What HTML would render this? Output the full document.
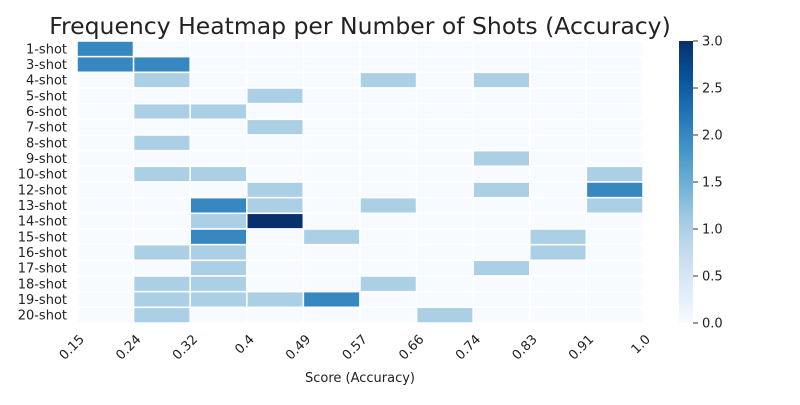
<!DOCTYPE html>
<html><head><meta charset="utf-8"><style>
body{margin:0;background:#fff;}
svg{font-family:"DejaVu Sans","Liberation Sans",sans-serif;}
</style></head><body>
<svg id="chart" width="800" height="400">
<defs><linearGradient id="blues" x1="0" y1="1" x2="0" y2="0">
<stop offset="0" stop-color="#f7fbff"/><stop offset="0.125" stop-color="#deebf7"/><stop offset="0.25" stop-color="#c6dbef"/><stop offset="0.375" stop-color="#9ecae1"/><stop offset="0.5" stop-color="#6baed6"/><stop offset="0.625" stop-color="#4292c6"/><stop offset="0.75" stop-color="#2171b5"/><stop offset="0.875" stop-color="#08519c"/><stop offset="1" stop-color="#08306b"/></linearGradient></defs>
<text x="360" y="34" font-size="23.5" text-anchor="middle" fill="#222">Frequency Heatmap per Number of Shots (Accuracy)</text>
<g id="cells"></g><g id="axes"></g>
</svg>
<script>
const rowLabels=["1-shot","3-shot","4-shot","5-shot","6-shot","7-shot","8-shot","9-shot","10-shot","12-shot","13-shot","14-shot","15-shot","16-shot","17-shot","18-shot","19-shot","20-shot"];
const xTickLabels=["0.15","0.24","0.32","0.4","0.49","0.57","0.66","0.74","0.83","0.91","1.0"];
const values=[
[2,0,0,0,0,0,0,0,0,0],
[2,2,0,0,0,0,0,0,0,0],
[0,1,0,0,0,1,0,1,0,0],
[0,0,0,1,0,0,0,0,0,0],
[0,1,1,0,0,0,0,0,0,0],
[0,0,0,1,0,0,0,0,0,0],
[0,1,0,0,0,0,0,0,0,0],
[0,0,0,0,0,0,0,1,0,0],
[0,1,1,0,0,0,0,0,0,1],
[0,0,0,1,0,0,0,1,0,2],
[0,0,2,1,0,1,0,0,0,1],
[0,0,1,3,0,0,0,0,0,0],
[0,0,2,0,1,0,0,0,1,0],
[0,1,1,0,0,0,0,0,1,0],
[0,0,1,0,0,0,0,1,0,0],
[0,1,1,0,0,1,0,0,0,0],
[0,1,1,1,2,0,0,0,0,0],
[0,1,0,0,0,0,1,0,0,0]];
const cbTicks=[0,0.5,1,1.5,2,2.5,3];
const vmax=3;
const X0=77,X1=643,Y0=41,Y1=323;
const nC=10,nR=rowLabels.length;
const cw=(X1-X0)/nC,rh=(Y1-Y0)/nR;
const xs=i=>X0+i*cw, ys=j=>Y0+j*rh;
const stops=[[247,251,255],[222,235,247],[198,219,239],[158,202,225],[107,174,214],[66,146,198],[33,113,181],[8,81,156],[8,48,107]];
function color(v){let t=Math.max(0,Math.min(1,v/vmax))*8;let i=Math.min(7,Math.floor(t)),f=t-i;
const a=stops[i],b=stops[i+1];return `rgb(${a.map((c,k)=>Math.round(c+(b[k]-c)*f)).join(",")})`;}
const NS="http://www.w3.org/2000/svg";
const cells=document.getElementById("cells"),axes=document.getElementById("axes");
function mk(tag,attrs,parent,txt){const e=document.createElementNS(NS,tag);for(const k in attrs)e.setAttribute(k,attrs[k]);if(txt!==undefined)e.textContent=txt;parent.appendChild(e);return e;}
values.forEach((row,j)=>row.forEach((v,i)=>{
const r=mk("rect",{x:xs(i),y:ys(j),width:cw,height:rh,fill:color(v),stroke:"#fff","stroke-width":1.5},cells);


}));
rowLabels.forEach((l,j)=>{
const t=mk("text",{x:X0-10,y:ys(j)+rh/2+4.5,"font-size":13,"text-anchor":"end",fill:"#222"},axes,l);


});
xTickLabels.forEach((l,i)=>{
const x=xs(i);
const ax=x+8, ay=Y1+17;
const t=mk("text",{x:ax,y:ay,"font-size":13,"text-anchor":"end",fill:"#222",transform:`rotate(-45 ${ax} ${ay})`},axes,l);


});
const xt=mk("text",{x:(X0+X1)/2,y:382,"font-size":13,"text-anchor":"middle",fill:"#222"},axes,"Score (Accuracy)");


const CB0=679,CB1=693;
const cb=mk("rect",{x:CB0,y:Y0,width:CB1-CB0,height:Y1-Y0,fill:"url(#blues)"},axes);


cbTicks.forEach(v=>{
const y=Y1-(v/vmax)*(Y1-Y0);
mk("line",{x1:CB1,x2:CB1+5,y1:y,y2:y,stroke:"#333"},axes);
const t=mk("text",{x:CB1+9,y:y+4.5,"font-size":13,fill:"#222"},axes,v.toFixed(1));


});
</script>
</body></html>
